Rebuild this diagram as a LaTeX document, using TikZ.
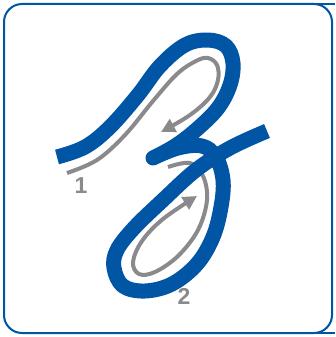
\documentclass[tikz,border=0pt]{standalone}
\usepackage{fontspec}
\setmainfont{Liberation Sans}
\usetikzlibrary{arrows.meta}
\definecolor{letterblue}{RGB}{0,85,165}
\definecolor{guidegray}{RGB}{138,138,141}

\begin{document}
\begin{tikzpicture}[
        x=1pt, y=-1pt,
        frame/.style={draw=letterblue, line width=2pt},
        letter/.style={draw=letterblue, line width=15pt, line join=round},
        guide/.style={draw=guidegray, line width=4pt},
        guidearrow/.style={guide, -{Triangle[length=14pt, width=14pt]}},
        numlabel/.style={text=guidegray, font=\fontsize{23}{23}\selectfont\bfseries, inner sep=0pt}
    ]
    \useasboundingbox (0,0) rectangle (335,337);

    % Frame
    \draw[frame, rounded corners=18pt] (4,4) rectangle (332,333);
    \draw[frame] (310,4) -- (335,4);
    \draw[frame] (310,333) -- (335,333);

    % Guide strokes (under the letter)
    \draw[guidearrow] plot[smooth, tension=0.6] coordinates {(67,173) (97,160) (125,135) (153,101) (177,74) (196,61) (208,58) (217,65) (218,80) (210,97) (190,115) (161,132)};
    \draw[guidearrow] plot[smooth, tension=0.6] coordinates {(168,167) (190,163) (203,176) (207,200) (198,230) (178,256) (155,272) (139,274) (133,262) (142,241) (163,219) (197,196)};

    % Letter z
    \draw[letter] plot[smooth, tension=0.6] coordinates {(57,157) (85,147) (110,127) (138,95) (160,66) (185,45) (208,40) (226,46) (233,63) (230,85) (218,108) (196,130) (175,146) (153,158)}
        -- plot[smooth, tension=0.6] coordinates {(153,158) (178,148) (202,146) (216,157) (223,180) (221,207) (213,237) (197,264) (172,284) (145,291) (123,286) (114,268) (117,250) (134,228) (163,200) (196,170) (230,148) (267,131)};

    % Stroke numbers
    \node[numlabel] (one) at (81,186) {1};
    \node[numlabel] (two) at (184,296) {2};
\end{tikzpicture}
\end{document}
